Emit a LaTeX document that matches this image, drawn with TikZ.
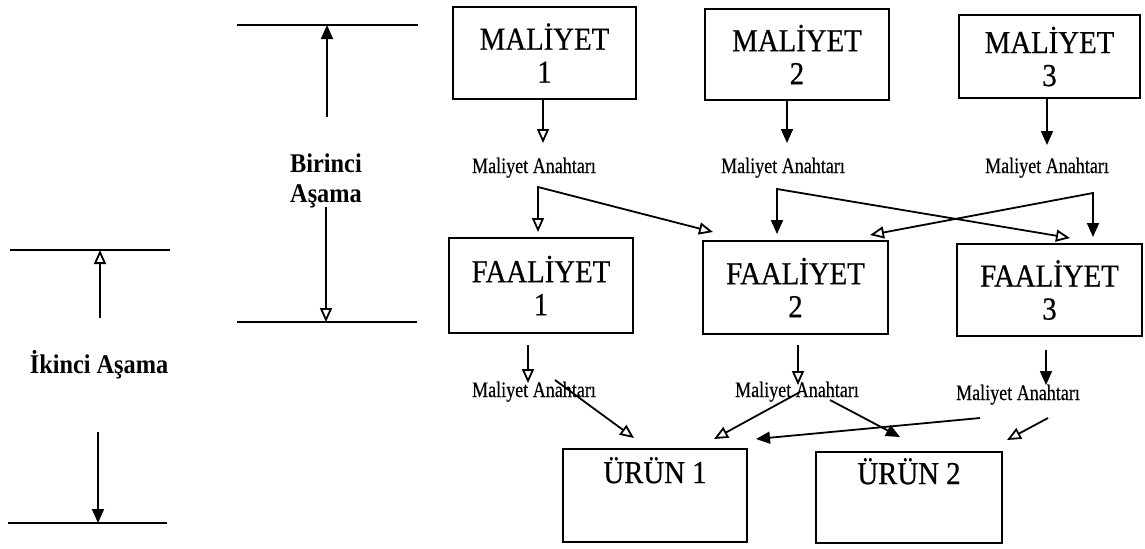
\documentclass[tikz,border=0pt]{standalone}
\usepackage{fontspec}
\setmainfont{Liberation Serif}
\newfontfamily\boxfont[FakeStretch=0.9,FakeBold=0.6]{Liberation Serif}
\newfontfamily\keyfont[FakeStretch=0.82,FakeBold=0.4]{Liberation Serif}
\newfontfamily\stagefont[FakeStretch=0.9]{Liberation Serif}
\usetikzlibrary{arrows.meta}

\tikzset{
  Ful/.tip={Triangle[length=7pt,width=6pt]},
  Hol/.tip={Triangle[open,length=7pt,width=6pt]},
  conn/.style={line width=0.9pt},
  rule/.style={line width=0.9pt},
  box/.style={draw,line width=0.9pt,inner sep=0pt,align=center,
    font=\boxfont\fontsize{16}{16.5}\selectfont},
  boxtext/.style={inner sep=0pt,anchor=base,
    font=\boxfont\fontsize{16}{16.5}\selectfont},
  key/.style={inner sep=0pt,anchor=base,
    font=\keyfont\fontsize{11}{13}\selectfont},
  stage/.style={inner sep=0pt,anchor=base,
    font=\stagefont\bfseries\fontsize{13.5}{15}\selectfont},
}

\begin{document}
\begin{tikzpicture}[x=0.5pt,y=-0.5pt]
\useasboundingbox (0,0) rectangle (1145,548);

% cost pools
\node[box,minimum width=91.5pt,minimum height=46pt]   (m1) at (544.5,53)   {MALİYET\\1};
\node[box,minimum width=92pt,minimum height=45.5pt]   (m2) at (797,54.5)   {MALİYET\\2};
\node[box,minimum width=90.5pt,minimum height=41.5pt] (m3) at (1049.5,56.5) {MALİYET\\3};

% activities
\node[box,minimum width=92pt,minimum height=47.5pt]   (f1) at (541,285.5)  {FAALİYET\\1};
\node[box,minimum width=92.5pt,minimum height=46.5pt] (f2) at (795.5,287.5) {FAALİYET\\2};
\node[box,minimum width=92.5pt,minimum height=46pt]   (f3) at (1049.5,290) {FAALİYET\\3};

% products
\node[box,minimum width=92pt,minimum height=46.5pt] (u1) at (655,495.5) {};
\node[box,minimum width=93pt,minimum height=45.5pt] (u2) at (909,497.5) {};
\node[boxtext] (u1t) at ([yshift=-17.5pt]u1.north) {ÜRÜN 1};
\node[boxtext] (u2t) at ([yshift=-16.5pt]u2.north) {ÜRÜN 2};

% cost drivers, first stage
\node[key] (k1) at (534,173)  {Maliyet Anahtarı};
\node[key] (k2) at (783,173)  {Maliyet Anahtarı};
\node[key] (k3) at (1047,173) {Maliyet Anahtarı};

% cost drivers, second stage
\node[key] (l1) at (534,397)  {Maliyet Anahtarı};
\node[key] (l2) at (797,397)  {Maliyet Anahtarı};
\node[key] (l3) at (1018,400) {Maliyet Anahtarı};

% pools to drivers
\coordinate (k1t) at (543,143);
\coordinate (k2t) at (787,143);
\coordinate (k3t) at (1047,145);
\draw[conn,-Hol] (m1.south -| k1t) -- (k1t);
\draw[conn,-Ful] (m2.south -| k2t) -- (k2t);
\draw[conn,-Ful] (m3.south -| k3t) -- (k3t);

% drivers to activities
\coordinate (s1) at (538,187);
\coordinate (f1in)  at (538,232);
\coordinate (f2in1) at (713,232);
\coordinate (s2) at (777,189);
\coordinate (f2in2) at (777,234);
\coordinate (f3in1) at (1070,238);
\coordinate (s3) at (1093,193);
\coordinate (f3in2) at (1093,237);
\coordinate (f2in3) at (870,235);
\draw[conn,Hol-Hol] (f1in) -- (s1) -- (f2in1);
\draw[conn,Ful-Hol] (f2in2) -- (s2) -- (f3in1);
\draw[conn,Hol-Ful] (f2in3) -- (s3) -- (f3in2);

% activities to drivers
\coordinate (f1o) at (528,345);
\coordinate (l1t) at (528,383);
\coordinate (f2o) at (798,345);
\coordinate (l2t) at (798,385);
\coordinate (f3o) at (1046,350);
\coordinate (l3t) at (1046,385);
\draw[conn,-Hol] (f1o) -- (l1t);
\draw[conn,-Hol] (f2o) -- (l2t);
\draw[conn,-Ful] (f3o) -- (l3t);

% drivers to products
\coordinate (l1a) at (555,380);
\coordinate (u1in1) at (634,438);
\coordinate (l2a) at (800,392);
\coordinate (u1in2) at (714,439);
\coordinate (l2b) at (830,400);
\coordinate (u2in1) at (900,437);
\coordinate (l3a) at (980,418);
\coordinate (u1in3) at (756,439);
\coordinate (l3b) at (1048,418);
\coordinate (u2in2) at (1007,440);
\draw[conn,-Hol] (l1a) -- (u1in1);
\draw[conn,-Hol] (l2a) -- (u1in2);
\draw[conn,-Ful] (l2b) -- (u2in1);
\draw[conn,-Ful] (l3a) -- (u1in3);
\draw[conn,-Hol] (l3b) -- (u2in2);

% first stage span
\coordinate (b1) at (237,25);
\coordinate (b2) at (418,25);
\coordinate (b3) at (237,322);
\coordinate (b4) at (417,322);
\draw[rule] (b1) -- (b2);
\draw[rule] (b3) -- (b4);
\node[stage] (st1a) at (326,172) {Birinci};
\node[stage] (st1b) at (326,202) {Aşama};
\coordinate (st1up) at (327,117);
\coordinate (st1dn) at (326,207);
\draw[conn,-Ful] (st1up) -- (b1 -| st1up);
\draw[conn,-Hol] (st1dn) -- (b3 -| st1dn);

% second stage span
\coordinate (c1) at (10,250);
\coordinate (c2) at (170,250);
\coordinate (c3) at (8,523);
\coordinate (c4) at (167,523);
\draw[rule] (c1) -- (c2);
\draw[rule] (c3) -- (c4);
\node[stage] (st2) at (99,373) {İkinci Aşama};
\coordinate (st2up) at (100,318);
\coordinate (st2dn) at (98,432);
\draw[conn,-Hol] (st2up) -- (c1 -| st2up);
\draw[conn,-Ful] (st2dn) -- (c3 -| st2dn);
\end{tikzpicture}
\end{document}
